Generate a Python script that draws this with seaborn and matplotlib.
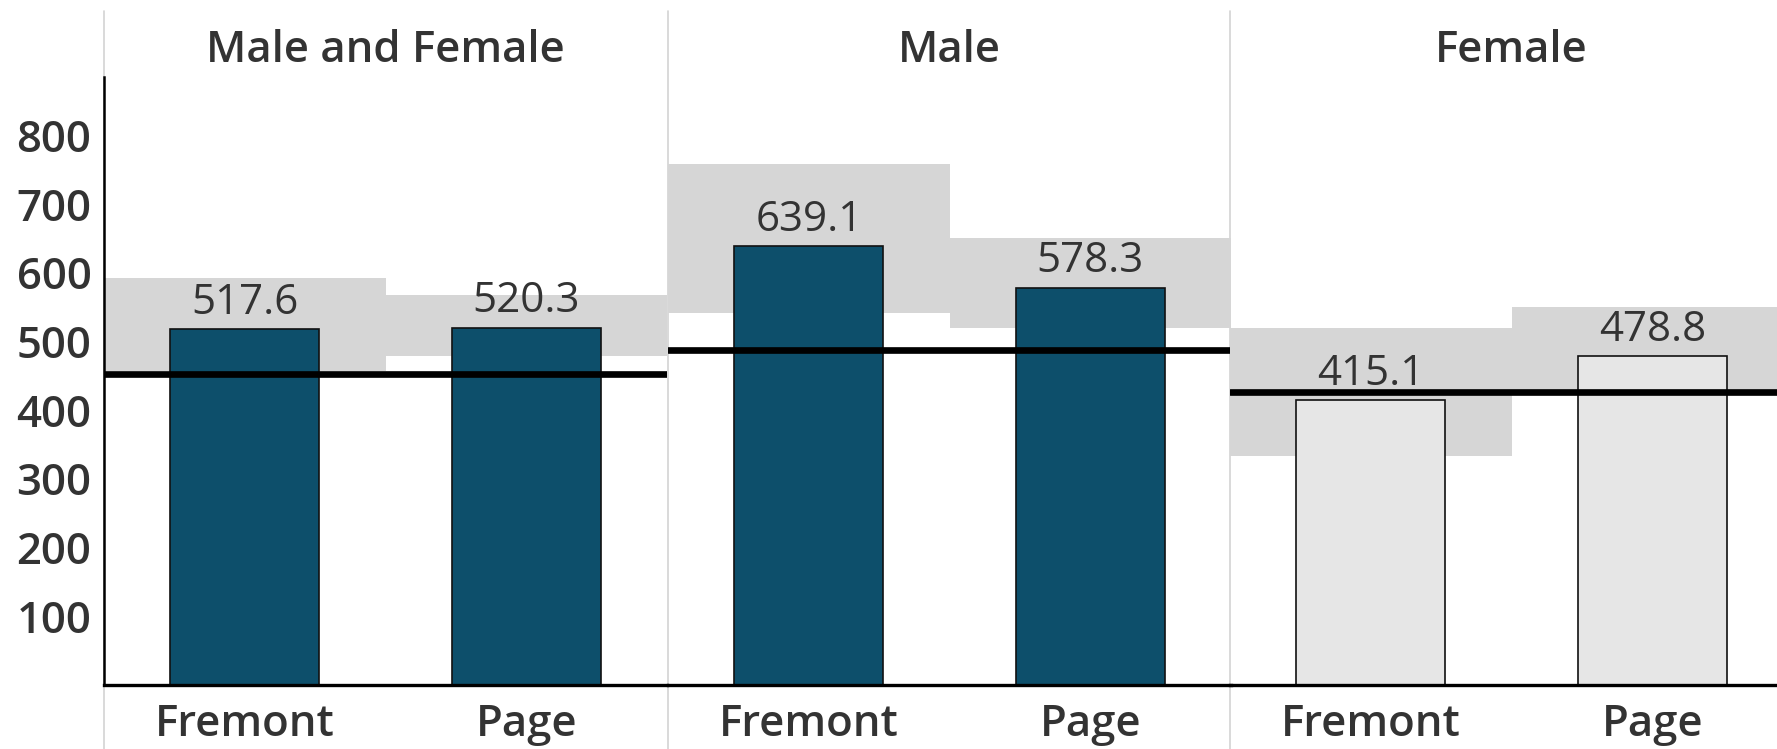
import matplotlib
matplotlib.use("Agg")
import matplotlib.pyplot as plt
import seaborn as sns
from matplotlib.lines import Line2D

# ---- data ----
panels = ["Male and Female", "Male", "Female"]
cities = ["Fremont", "Page"]
rates_all = [517.6, 520.3]
rates_male = [639.1, 578.3]
rates_female = [415.1, 478.8]
ci_low_all = [457, 479]
ci_high_all = [593, 568]
ci_low_male = [542, 519]
ci_high_male = [759, 650]
ci_low_female = [333, 423]
ci_high_female = [519, 550]
reference = [452, 487, 426]
yticks = [100, 200, 300, 400, 500, 600, 700, 800]

rates = [rates_all, rates_male, rates_female]
lows = [ci_low_all, ci_low_male, ci_low_female]
highs = [ci_high_all, ci_high_male, ci_high_female]

sns.set_theme(style="white")
plt.rcParams['font.family'] = ['Open Sans', 'DejaVu Sans']

W, H = 1777, 749
fig = plt.figure(figsize=(W / 100, H / 100), dpi=100)
fig.patch.set_facecolor("white")

left_px = [104, 668, 1230]
pw = 563
top_px, base_px = 77, 685
ymax = 885
text_col = "#333333"
band_col = "#d6d6d6"
bar_fill = ["#0d4f6b", "#0d4f6b", "#e6e6e6"]
FS_TITLE = 31.5
FS_TICK = 31.5
FS_VAL = 30.3

for i, name in enumerate(panels):
    l = left_px[i]
    ax = fig.add_axes([l / W, 1 - base_px / H, pw / W, (base_px - top_px) / H])
    ax.set_facecolor("none")
    sns.barplot(x=cities, y=rates[i], ax=ax, color=bar_fill[i], saturation=1,
                edgecolor="#111111", linewidth=1.2, width=0.53, zorder=2)
    heights = [h - lo for h, lo in zip(highs[i], lows[i])]
    ax.bar([0, 1], heights, bottom=lows[i], width=1.0, color=band_col,
           linewidth=0, zorder=0.5)
    ax.axhline(reference[i], color="black", lw=4.8, zorder=3)
    for j, v in enumerate(rates[i]):
        ax.annotate(f"{v:.1f}", (j, v), xytext=(0, 11), textcoords="offset points",
                    ha="center", va="baseline", fontsize=FS_VAL, color=text_col, zorder=4)
    ax.set_xlim(-0.5, 1.5)
    ax.set_ylim(0, ymax)
    ax.set_xlabel("")
    ax.set_ylabel("")
    for s in ["top", "right"]:
        ax.spines[s].set_visible(False)
    ax.spines["bottom"].set_color("black")
    ax.spines["bottom"].set_linewidth(2.4)
    ax.tick_params(axis="x", length=0, pad=13, labelsize=FS_TICK, labelcolor=text_col)
    for t in ax.get_xticklabels():
        t.set_fontweight("semibold")
    if i == 0:
        ax.spines["left"].set_color("black")
        ax.spines["left"].set_linewidth(1.8)
        ax.set_yticks(yticks)
        ax.set_yticklabels([str(t) for t in yticks], fontweight="semibold")
        ax.tick_params(axis="y", length=0, pad=9, labelsize=FS_TICK, labelcolor=text_col)
    else:
        ax.spines["left"].set_visible(False)
        ax.set_yticks([])
    fig.text((l + pw / 2) / W, 1 - 51 / H, name, ha="center", va="center",
             fontsize=FS_TITLE, fontweight="semibold", color=text_col)

for x in left_px:
    fig.add_artist(Line2D([x / W, x / W], [0, 1 - 11 / H], transform=fig.transFigure,
                          color="#d3d3d3", lw=1.2, zorder=-1))

fig.savefig("out.png", dpi=100)
